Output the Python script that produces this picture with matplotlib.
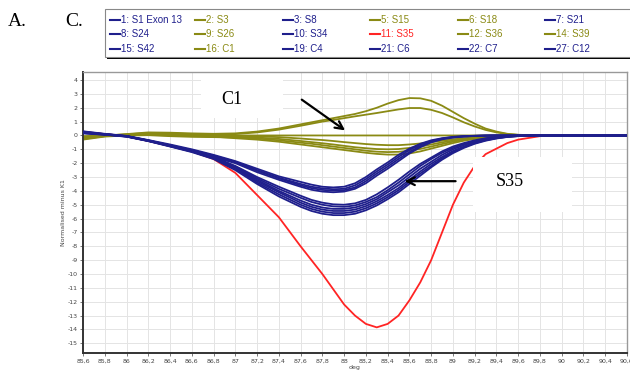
import matplotlib
matplotlib.use("Agg")
import matplotlib.pyplot as plt
from matplotlib.lines import Line2D
from matplotlib.patches import Rectangle

plt.rcParams['axes.unicode_minus'] = False

# colours of the three groups
BLUE = "#1f1f8c"
OLIVE = "#8a8a14"
RED = "#ff2424"

# temperature axis (deg)
deg = [85.6, 85.8, 86.0, 86.2, 86.4, 86.6, 86.8, 87.0, 87.2, 87.4,
       87.6, 87.7, 87.8, 87.9, 88.0, 88.1, 88.2, 88.3, 88.4, 88.5,
       88.6, 88.7, 88.8, 88.9, 89.0, 89.1, 89.2, 89.3, 89.4, 89.5,
       89.6, 89.8, 90.0, 90.2, 90.4, 90.6]

# blue samples (upper bundle)
s1_exon13 = [0.3, 0.12, -0.03, -0.33, -0.65, -1.0, -1.4, -1.85, -2.4, -2.95,
             -3.35, -3.55, -3.7, -3.75, -3.7, -3.45, -3.0, -2.45, -1.95, -1.4,
             -0.95, -0.6, -0.35, -0.2, -0.1, -0.05, -0.02, 0, 0, 0,
             0, 0, 0, 0, 0, 0]
s8 = [0.28, 0.1, -0.05, -0.35, -0.7, -1.05, -1.45, -1.9, -2.5, -3.05,
      -3.5, -3.7, -3.82, -3.88, -3.85, -3.6, -3.15, -2.6, -2.1, -1.55,
      -1.05, -0.65, -0.4, -0.22, -0.12, -0.06, -0.03, -0.01, 0, 0,
      0, 0, 0, 0, 0, 0]
s21 = [0.25, 0.08, -0.06, -0.37, -0.72, -1.08, -1.5, -1.95, -2.55, -3.1,
       -3.6, -3.8, -3.93, -3.98, -3.95, -3.75, -3.3, -2.75, -2.25, -1.7,
       -1.2, -0.75, -0.45, -0.25, -0.14, -0.07, -0.03, -0.01, 0, 0,
       0, 0, 0, 0, 0, 0]
s24 = [0.22, 0.07, -0.07, -0.38, -0.74, -1.1, -1.55, -2.0, -2.65, -3.2,
       -3.7, -3.92, -4.05, -4.1, -4.05, -3.85, -3.45, -2.9, -2.4, -1.85,
       -1.3, -0.85, -0.5, -0.28, -0.15, -0.08, -0.04, -0.02, 0, 0,
       0, 0, 0, 0, 0, 0]
# blue samples (lower bundle)
s34 = [0.22, 0.1, -0.04, -0.36, -0.72, -1.08, -1.55, -2.2, -3.0, -3.7,
       -4.35, -4.65, -4.85, -4.97, -5.0, -4.9, -4.65, -4.25, -3.75, -3.2,
       -2.6, -2.05, -1.6, -1.15, -0.8, -0.55, -0.35, -0.2, -0.1, -0.05,
       -0.02, 0, 0, 0, 0, 0]
s42 = [0.2, 0.09, -0.05, -0.37, -0.73, -1.1, -1.57, -2.25, -3.1, -3.85,
       -4.5, -4.8, -5.0, -5.12, -5.15, -5.05, -4.8, -4.45, -3.95, -3.4,
       -2.8, -2.2, -1.7, -1.25, -0.9, -0.62, -0.4, -0.24, -0.13, -0.06,
       -0.03, 0, 0, 0, 0, 0]
c4 = [0.2, 0.08, -0.06, -0.38, -0.75, -1.12, -1.6, -2.3, -3.2, -4.0,
      -4.7, -5.0, -5.2, -5.3, -5.3, -5.2, -4.95, -4.6, -4.1, -3.6,
      -3.0, -2.4, -1.9, -1.4, -1.0, -0.7, -0.45, -0.28, -0.15, -0.07,
      -0.03, 0, 0, 0, 0, 0]
c6 = [0.18, 0.07, -0.07, -0.39, -0.77, -1.15, -1.63, -2.35, -3.3, -4.1,
      -4.85, -5.15, -5.35, -5.45, -5.45, -5.35, -5.1, -4.75, -4.3, -3.8,
      -3.2, -2.6, -2.05, -1.55, -1.12, -0.8, -0.52, -0.32, -0.18, -0.09,
      -0.04, 0, 0, 0, 0, 0]
c7 = [0.17, 0.06, -0.08, -0.4, -0.78, -1.17, -1.66, -2.4, -3.4, -4.25,
      -5.0, -5.3, -5.5, -5.6, -5.6, -5.5, -5.25, -4.9, -4.45, -3.95,
      -3.35, -2.75, -2.2, -1.65, -1.2, -0.85, -0.56, -0.35, -0.2, -0.1,
      -0.04, 0, 0, 0, 0, 0]
c12 = [0.15, 0.05, -0.09, -0.41, -0.8, -1.2, -1.7, -2.5, -3.5, -4.4,
       -5.15, -5.45, -5.65, -5.75, -5.75, -5.65, -5.4, -5.05, -4.6, -4.1,
       -3.5, -2.9, -2.3, -1.75, -1.28, -0.9, -0.6, -0.38, -0.22, -0.11,
       -0.05, 0, 0, 0, 0, 0]

# olive samples
s3 = [-0.2, -0.02, 0.1, 0.22, 0.2, 0.15, 0.12, 0.15, 0.28, 0.5,
      0.8, 0.95, 1.1, 1.25, 1.4, 1.55, 1.75, 2.0, 2.3, 2.55,
      2.7, 2.68, 2.5, 2.15, 1.7, 1.25, 0.85, 0.5, 0.28, 0.12,
      0.05, 0, 0, 0, 0, 0]
s15 = [-0.15, 0.0, 0.08, 0.18, 0.15, 0.1, 0.08, 0.1, 0.22, 0.42,
       0.7, 0.85, 1.0, 1.12, 1.25, 1.38, 1.5, 1.62, 1.75, 1.88,
       1.98, 1.98, 1.85, 1.62, 1.3, 0.95, 0.65, 0.4, 0.22, 0.1,
       0.04, 0, 0, 0, 0, 0]
c1 = [-0.05, 0.0, 0.05, 0.1, 0.08, 0.05, 0.02, 0.0, 0, 0,
      0, 0, 0, 0, 0, 0, 0, 0, 0, 0,
      0, 0, 0, 0, 0, 0, 0, 0, 0, 0,
      0, 0, 0, 0, 0, 0]
s18 = [-0.1, 0.0, 0.05, 0.12, 0.1, 0.05, 0.0, -0.02, -0.06, -0.12,
       -0.22, -0.28, -0.33, -0.4, -0.48, -0.55, -0.62, -0.67, -0.7, -0.7,
       -0.65, -0.58, -0.48, -0.38, -0.28, -0.2, -0.13, -0.08, -0.04, -0.02,
       0, 0, 0, 0, 0, 0]
s26 = [-0.25, -0.05, 0.02, 0.05, 0.0, -0.05, -0.08, -0.1, -0.15, -0.25,
       -0.4, -0.48, -0.56, -0.65, -0.75, -0.85, -0.92, -0.98, -1.0, -0.98,
       -0.9, -0.8, -0.65, -0.5, -0.37, -0.26, -0.17, -0.1, -0.05, -0.02,
       0, 0, 0, 0, 0, 0]
s36 = [-0.3, -0.08, 0.0, 0.02, -0.05, -0.1, -0.12, -0.15, -0.22, -0.35,
       -0.52, -0.6, -0.7, -0.8, -0.9, -1.0, -1.1, -1.17, -1.2, -1.18,
       -1.1, -0.97, -0.8, -0.62, -0.45, -0.32, -0.2, -0.12, -0.06, -0.03,
       0, 0, 0, 0, 0, 0]
s39 = [-0.2, -0.05, 0.03, 0.08, 0.02, -0.02, -0.08, -0.2, -0.3, -0.45,
       -0.65, -0.75, -0.85, -0.95, -1.05, -1.15, -1.25, -1.33, -1.38, -1.38,
       -1.3, -1.15, -0.95, -0.75, -0.55, -0.38, -0.25, -0.15, -0.08, -0.04,
       0, 0, 0, 0, 0, 0]

# red sample
s35 = [0.25, 0.1, -0.05, -0.4, -0.75, -1.15, -1.7, -2.7, -4.3, -5.9,
       -8.0, -9.0, -10.0, -11.1, -12.2, -13.0, -13.6, -13.85, -13.6, -13.0,
       -11.9, -10.6, -9.0, -7.0, -5.0, -3.4, -2.2, -1.35, -0.95, -0.55,
       -0.3, -0.05, 0, 0, 0, 0]

# legend entries, row by row as in the instrument window
legend_rows = [
    [("1: S1 Exon 13", BLUE), ("2: S3", OLIVE), ("3: S8", BLUE),
     ("5: S15", OLIVE), ("6: S18", OLIVE), ("7: S21", BLUE)],
    [("8: S24", BLUE), ("9: S26", OLIVE), ("10: S34", BLUE),
     ("11: S35", RED), ("12: S36", OLIVE), ("14: S39", OLIVE)],
    [("15: S42", BLUE), ("16: C1", OLIVE), ("19: C4", BLUE),
     ("21: C6", BLUE), ("22: C7", BLUE), ("27: C12", BLUE)],
]

olive_curves = [s3, s15, c1, s18, s26, s36, s39]
blue_curves = [s1_exon13, s8, s21, s24, s34, s42, c4, c6, c7, c12]

W, H = 630, 375
fx = lambda x: x / W
fy = lambda y: 1 - y / H

fig = plt.figure(figsize=(6.3, 3.75), dpi=100)
ax = fig.add_axes([fx(83), fy(353), 544 / W, 281 / H])

for ys in olive_curves:
    ax.plot(deg, ys, color=OLIVE, lw=1.3, zorder=2)
ax.plot(deg, s35, color=RED, lw=1.3, zorder=3)
for ys in blue_curves:
    ax.plot(deg, ys, color=BLUE, lw=1.3, zorder=4)

ax.set_xlim(85.6, 90.6)
ax.set_ylim(-15.7, 4.58)
xt = [round(85.6 + 0.2 * i, 1) for i in range(26)]
ax.set_xticks(xt)
ax.set_xticklabels([f"{v:g}".replace(".", ",") for v in xt])
ax.set_yticks(range(-15, 5))
ax.tick_params(labelsize=4.5, colors="#444444", length=2, width=0.5, pad=2)
ax.grid(True, color="#e4e4e4", lw=0.7, zorder=0)
ax.set_axisbelow(True)
ax.set_xlabel("deg", fontsize=4.5, color="#444444", labelpad=1)
ax.set_ylabel("Normalised minus K1", fontsize=4.5, color="#444444", labelpad=1)
for side in ["left", "bottom"]:
    ax.spines[side].set_color("#333333")
    ax.spines[side].set_linewidth(1.4)
for side in ["top", "right"]:
    ax.spines[side].set_color("#999999")
    ax.spines[side].set_linewidth(1.0)

# annotation boxes and arrows
ax.add_patch(Rectangle((86.68, 1.25), 0.76, 3.3, facecolor="white",
                       edgecolor="none", zorder=1))
ax.text(86.97, 2.63, "C1", fontsize=13, family="Liberation Serif",
        ha="center", va="center", zorder=6)
ax.annotate("", xy=(88.03, 0.25), xytext=(87.59, 2.7),
            arrowprops=dict(arrowstyle="->", color="black", lw=1.6,
                            mutation_scale=14), zorder=6)
ax.add_patch(Rectangle((89.18, -5.53), 0.91, 3.97, facecolor="white",
                       edgecolor="none", zorder=5))
ax.text(89.52, -3.3, "S35", fontsize=13, family="Liberation Serif",
        ha="center", va="center", zorder=6)
ax.annotate("", xy=(88.53, -3.3), xytext=(89.05, -3.3),
            arrowprops=dict(arrowstyle="->", color="black", lw=1.6,
                            mutation_scale=14), zorder=6)

# panel letters
fig.text(fx(8), fy(22), "A.", fontsize=14, family="Liberation Serif", va="center")
fig.text(fx(65), fy(22), "C.", fontsize=14, family="Liberation Serif", va="center")

# legend box with shadow
fig.add_artist(Rectangle((fx(107), fy(59)), 530 / W, 48 / H,
                         transform=fig.transFigure, facecolor="black",
                         edgecolor="none"))
fig.add_artist(Rectangle((fx(105), fy(57)), 530 / W, 48 / H,
                         transform=fig.transFigure, facecolor="white",
                         edgecolor="#888888", lw=0.8))
col_x = [110, 195, 283, 370, 458, 545]
row_y = [20, 34, 49]
for r, row in enumerate(legend_rows):
    for c, (label, color) in enumerate(row):
        x0, y0 = col_x[c], row_y[r]
        fig.add_artist(Line2D([fx(x0), fx(x0 + 10)], [fy(y0), fy(y0)],
                              transform=fig.transFigure, color=color, lw=1.5))
        fig.text(fx(x0 + 11), fy(y0), label, color=color, fontsize=7,
                 family="Liberation Sans", va="center")

fig.savefig("out.png", dpi=100)
